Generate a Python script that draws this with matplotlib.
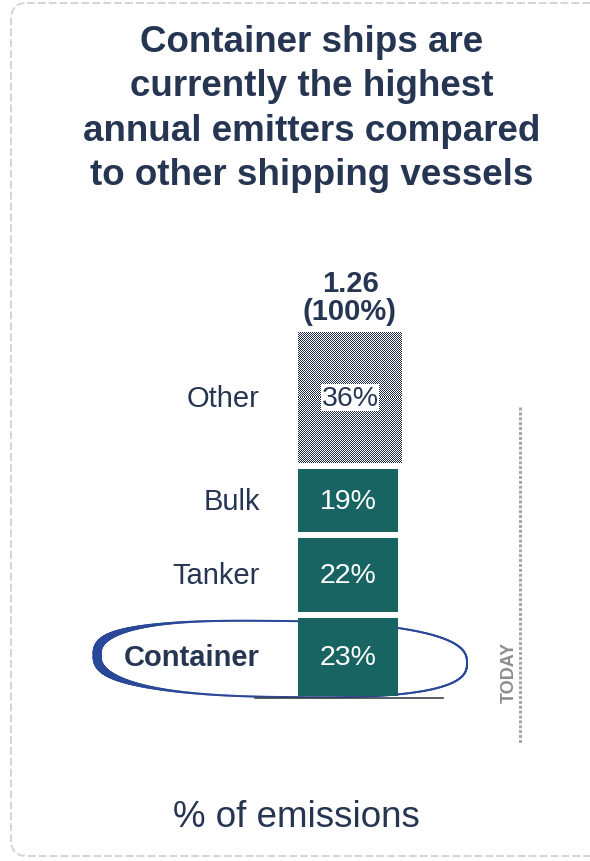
import numpy as np
import matplotlib
matplotlib.use("Agg")
import matplotlib.pyplot as plt
from matplotlib.patches import FancyBboxPatch
from matplotlib.collections import LineCollection
from matplotlib.colors import ListedColormap

plt.rcParams['font.family'] = ['Liberation Sans', 'DejaVu Sans']

# data (share of annual shipping emissions, bottom to top)
categories = ['Container', 'Tanker', 'Bulk', 'Other']
shares = [23, 22, 19, 36]
total_value = 1.26
total_label = f"{total_value:.2f}\n(100%)"
footer = "% of emissions"
title = ("Container ships are\ncurrently the highest\n"
         "annual emitters compared\nto other shipping vessels")

NAVY = '#263552'
TEAL = '#176462'
GREY = '#8c8c8c'

W, H = 590, 862
fig = plt.figure(figsize=(W / 100, H / 100), dpi=100)
fig.patch.set_facecolor('white')

# decoration layer in pixel coordinates (behind the bar)
deco = fig.add_axes([0, 0, 1, 1], zorder=0)
deco.set_xlim(0, W)
deco.set_ylim(H, 0)
deco.axis('off')
deco.patch.set_alpha(0)

frame = FancyBboxPatch((11, 4), 620, 853, boxstyle="round,pad=0,rounding_size=16",
                       fill=False, edgecolor='#d4d4d4', lw=1.4,
                       linestyle=(0, (4, 1.6)))
deco.add_patch(frame)

# hand-drawn ring around "Container" (flattened ellipse, heavy on the left)
t = np.linspace(0, 2 * np.pi, 500)
c, s = np.cos(t), np.sin(t)
n = 2.6
ex = 282 + 185 * np.sign(c) * np.abs(c) ** (2 / n)
ey = 660 + 38 * np.sign(s) * np.abs(s) ** (2 / n) + 4 * c
pts = np.column_stack([ex, ey]).reshape(-1, 1, 2)
segs = np.concatenate([pts[:-1], pts[1:]], axis=1)
widths = (2.0 + 7.0 * np.clip(-c[:-1], 0, None) ** 4) * 0.72
deco.add_collection(LineCollection(segs, linewidths=widths, colors='#2a4898',
                                   capstyle='round'))
deco.plot([255, 443], [699, 699], color='#3a3f4a', lw=1.2)

# dotted "today" marker
deco.plot([520, 520], [408, 745], color='#a8a8a8', lw=2.2,
          linestyle=(0, (1, 0.6)))
deco.text(509, 672, 'TODAY', rotation=90, ha='center', va='center',
          color=GREY, fontsize=13, fontweight='bold')

fig.text(312 / W, 1 - 109 / H, title, ha='center', va='center', color=NAVY,
         fontsize=26.5, fontweight='bold', linespacing=1.34)
fig.text(296 / W, 1 - 818 / H, footer, ha='center', va='center',
         color=NAVY, fontsize=26.5)

# bar layer
ax = fig.add_axes([0, 1 - 697 / H, 1, 364 / H], zorder=1)
ax.set_xlim(0, W)
ax.set_ylim(0, 100)
ax.axis('off')
ax.patch.set_alpha(0)

bar_x, bar_w = 348, 100
gap = 6 / 3.64
bottoms = np.concatenate([[0], np.cumsum(shares)[:-1]])
for i, (cat, val, b) in enumerate(zip(categories, shares, bottoms)):
    top_seg = i == len(shares) - 1
    h = val if top_seg else val - gap
    if top_seg:
        cx, cw = bar_x + 2, bar_w + 4
        rect = ax.bar(cx, h, bottom=b, width=cw, color='white',
                      edgecolor='none')[0]
        ny, nx = int(round(h * 3.64)), cw
        yy, xx = np.indices((ny, nx))
        checker = (yy + xx) % 2
        img = ax.imshow(checker, cmap=ListedColormap(['white', '#1f2b47']),
                        extent=(cx - cw / 2, cx + cw / 2, b, b + h),
                        aspect='auto', interpolation='nearest', zorder=2)
        img.set_clip_path(rect)
        ax.text(cx, b + h / 2, f"{val}%", ha='center', va='center',
                color=NAVY, fontsize=20.5, zorder=3,
                bbox=dict(facecolor='white', edgecolor='none', pad=0.5))
    else:
        ax.bar(bar_x, h, bottom=b, width=bar_w, color=TEAL, edgecolor='none')
        ax.text(bar_x, b + h / 2, f"{val}%", ha='center', va='center',
                color='white', fontsize=20.5)
    ax.text(260, b + h / 2, cat, ha='right', va='center', color=NAVY,
            fontsize=21, fontweight='bold' if cat == 'Container' else 'normal')

ax.annotate(total_label, xy=(bar_x + 2, sum(shares)), xytext=(0, 5),
            textcoords='offset points', ha='center', va='bottom',
            color=NAVY, fontsize=21, fontweight='bold', linespacing=0.98,
            annotation_clip=False)

fig.savefig('out.png', dpi=100, facecolor='white')
